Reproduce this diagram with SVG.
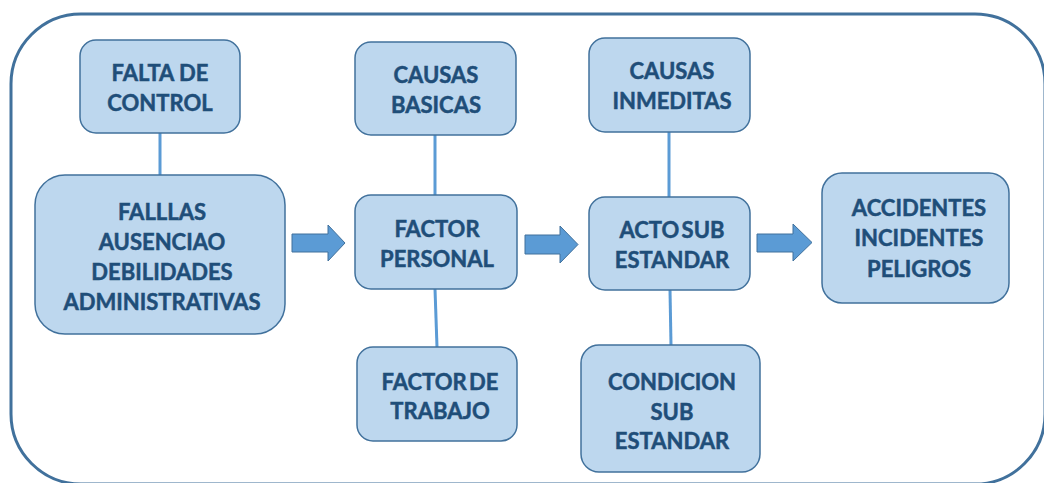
<svg xmlns="http://www.w3.org/2000/svg" width="1044" height="483" viewBox="0 0 1044 483">
<style>
.box{fill:#bdd7ee;stroke:#41719c;stroke-width:1.5}
.t{font-family:Lato,"Liberation Sans",sans-serif;font-weight:bold;font-size:22px;fill:#1f4e79;stroke:#1f4e79;stroke-width:0.5;text-anchor:middle}
.ln{stroke:#5b9bd5;stroke-width:3;fill:none}
.ar{fill:#5b9bd5;stroke:#41719c;stroke-width:1}
.frame{fill:none;stroke:#41719c;stroke-width:3}
</style>
<rect class="frame" x="11" y="14" width="1034" height="470" rx="70" ry="70"/>
<g id="connectors">
<line class="ln" x1="160" y1="133" x2="160" y2="175"/>
<line class="ln" x1="435" y1="135" x2="435" y2="195"/>
<line class="ln" x1="435" y1="289" x2="437" y2="347"/>
<line class="ln" x1="669" y1="132" x2="669" y2="197"/>
<line class="ln" x1="670" y1="290" x2="671" y2="345"/>
<path class="ar" d="M292,234 H328 V225 L345,243 L328,261 V252 H292 Z"/>
<path class="ar" d="M525,235 H560 V226 L578,244.5 L560,263 V254 H525 Z"/>
<path class="ar" d="M757,234 H793 V224 L812,242.5 L793,261 V252 H757 Z"/>
</g>
<g id="falta">
<rect class="box" x="80" y="40" width="160" height="93" rx="16"/>
<text class="t" x="160" y="81">FALTA DE</text>
<text class="t" x="160" y="111">CONTROL</text>
</g>
<g id="fallas">
<rect class="box" x="35" y="175" width="250" height="159" rx="30"/>
<text class="t" x="162" y="220">FALLLAS</text>
<text class="t" x="162" y="250">AUSENCIAO</text>
<text class="t" x="162" y="280">DEBILIDADES</text>
<text class="t" x="162" y="310">ADMINISTRATIVAS</text>
</g>
<g id="basicas">
<rect class="box" x="355" y="42" width="161" height="93" rx="16"/>
<text class="t" x="436" y="83">CAUSAS</text>
<text class="t" x="436" y="113">BASICAS</text>
</g>
<g id="personal">
<rect class="box" x="355" y="195" width="162" height="94" rx="16"/>
<text class="t" x="437" y="237">FACTOR</text>
<text class="t" x="437" y="267">PERSONAL</text>
</g>
<g id="trabajo">
<rect class="box" x="357" y="347" width="160" height="94" rx="16"/>
<text class="t" x="440" y="390" word-spacing="-3">FACTOR DE</text>
<text class="t" x="440" y="419">TRABAJO</text>
</g>
<g id="inmeditas">
<rect class="box" x="589" y="38" width="161" height="94" rx="16"/>
<text class="t" x="672" y="79">CAUSAS</text>
<text class="t" x="672" y="109">INMEDITAS</text>
</g>
<g id="acto">
<rect class="box" x="589" y="197" width="161" height="93" rx="16"/>
<text class="t" x="672" y="238" word-spacing="-3">ACTO SUB</text>
<text class="t" x="672" y="268">ESTANDAR</text>
</g>
<g id="condicion">
<rect class="box" x="581" y="345" width="179" height="127" rx="18"/>
<text class="t" x="672" y="390">CONDICION</text>
<text class="t" x="672" y="420">SUB</text>
<text class="t" x="672" y="449">ESTANDAR</text>
</g>
<g id="accidentes">
<rect class="box" x="822" y="173" width="187" height="130" rx="20"/>
<text class="t" x="919" y="216">ACCIDENTES</text>
<text class="t" x="919" y="246">INCIDENTES</text>
<text class="t" x="919" y="277">PELIGROS</text>
</g>
</svg>
